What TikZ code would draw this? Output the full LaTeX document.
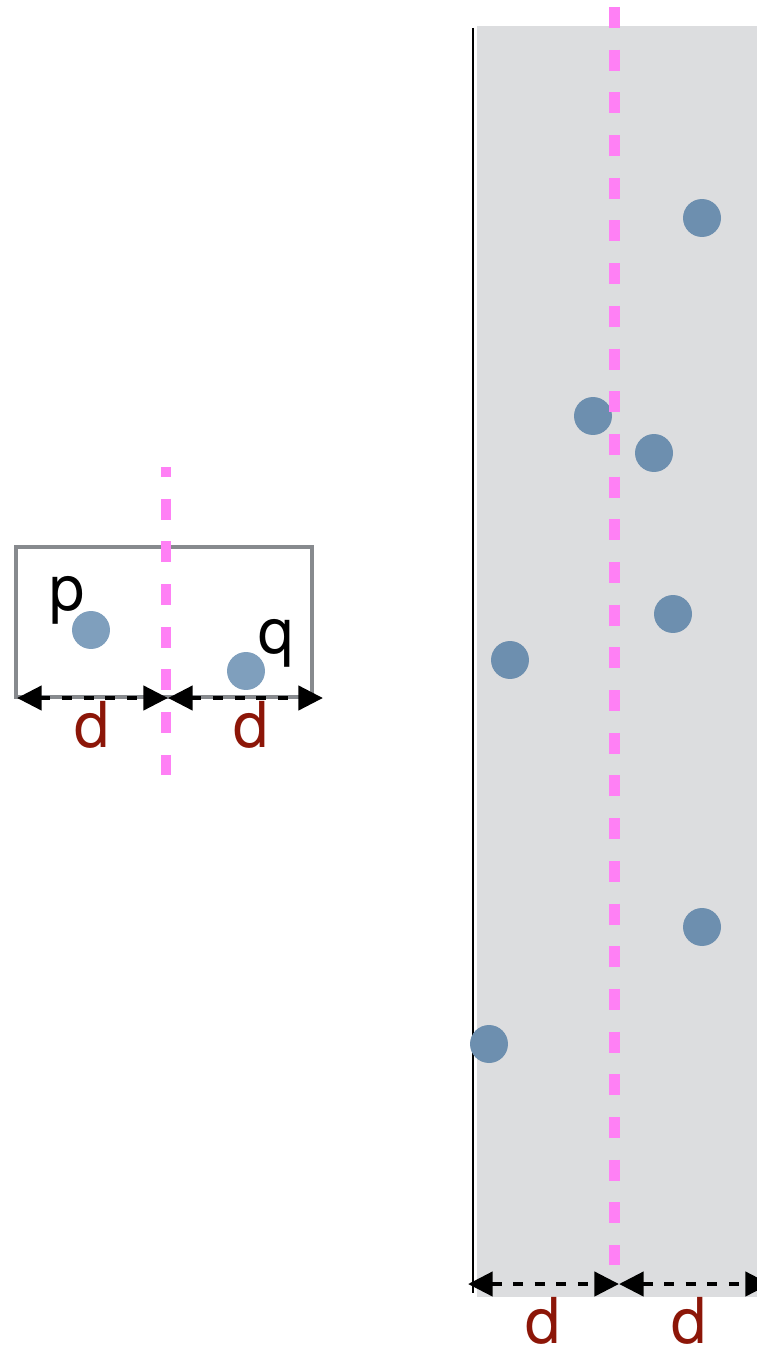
\documentclass[tikz,border=0pt]{standalone}
\usepackage{fontspec}
\setmainfont{TeX Gyre Heros}
\usetikzlibrary{arrows.meta}
\definecolor{cutpink}{RGB}{255,128,245}
\definecolor{stripgray}{RGB}{220,221,223}
\definecolor{boxgray}{RGB}{135,138,142}
\definecolor{ptblue}{RGB}{109,143,175}
\definecolor{ptlight}{RGB}{127,159,189}
\definecolor{dred}{RGB}{140,22,8}
\tikzset{
  cutline/.style={cutpink, line width=3.1pt, dash pattern=on 5.97pt off 6.17pt},
  ptdot/.style={circle, fill=ptblue, minimum size=10.8pt, inner sep=0pt},
  ptdotlight/.style={ptdot, fill=ptlight},
  dimline/.style={<->, line width=1.3pt, dash pattern=on 2.85pt off 3.3pt},
  dimlabel/.style={text=dred, font=\fontsize{18}{20}\selectfont, inner sep=0pt},
  ptlabel/.style={font=\fontsize{18}{20}\selectfont, inner sep=0pt}
}
\begin{document}
\begin{tikzpicture}[x=0.01cm, y=-0.01cm, >={Triangle[length=7pt,width=6.8pt]}]
\useasboundingbox (0,0) rectangle (756,1352);

\draw[boxgray, line width=1.15pt] (16,547) rectangle (312,697);
\node[ptdotlight] (p) at (91,630) {};
\node[ptdotlight] (q) at (246,671) {};
\node[ptlabel] (plab) at (67,600) {p};
\node[ptlabel] (qlab) at (276,643) {q};
\draw[cutline, dash phase=3.13pt] (166,467) -- (166,775);

\coordinate (sa) at (17,698);
\coordinate (sm) at (168,698);
\coordinate (sb) at (323,698);
\draw[dimline] (sa) -- (sm);
\draw[dimline] (sm) -- (sb);
\node[dimlabel] (sd1) at (92,725) {d};
\node[dimlabel] (sd2) at (251,725) {d};

\fill[stripgray] (477,26) rectangle (760,1297);
\draw[line width=0.65pt] (473,28) -- (473,1293);
\node[ptdot] (b1) at (702,218) {};
\node[ptdot] (b2) at (593,416) {};
\node[ptdot] (b3) at (654,453) {};
\node[ptdot] (b4) at (673,614) {};
\node[ptdot] (b5) at (510,660) {};
\node[ptdot] (b6) at (702,927) {};
\node[ptdot] (b7) at (489,1044) {};
\draw[cutline] (614.5,7) -- (614.5,1265);

\coordinate (ba) at (468,1284);
\coordinate (bm) at (619,1284);
\coordinate (bb) at (770,1284);
\draw[dimline] (ba) -- (bm);
\draw[dimline] (bm) -- (bb);
\node[dimlabel] (bd1) at (543,1321) {d};
\node[dimlabel] (bd2) at (689.5,1321) {d};
\end{tikzpicture}
\end{document}
